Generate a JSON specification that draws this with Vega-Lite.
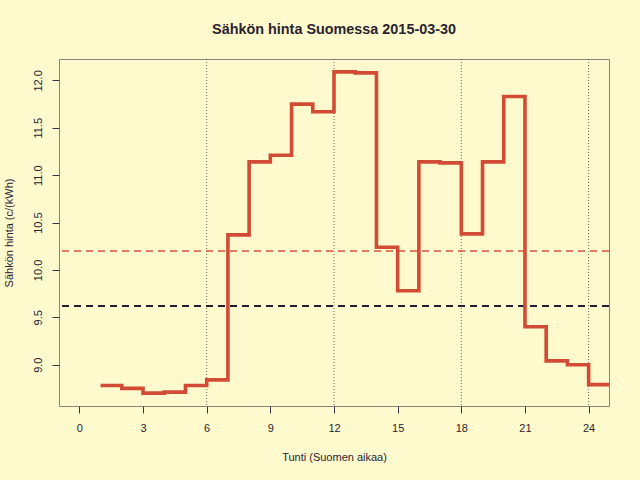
{
  "$schema": "https://vega.github.io/schema/vega-lite/v6.json",
  "autosize": "none",
  "width": 550,
  "height": 347,
  "padding": {"left": 59, "top": 59, "right": 31, "bottom": 74},
  "background": "#fffacd",
  "config": {
    "font": "Liberation Sans",
    "view": {"stroke": "#8a8378", "strokeWidth": 1},
    "axis": {
      "grid": false,
      "domain": false,
      "tickColor": "#3a3440",
      "tickSize": 7,
      "labelFont": "Liberation Sans",
      "labelFontSize": 11,
      "labelColor": "#2a2430",
      "titleFont": "Liberation Sans",
      "titleFontSize": 11,
      "titleFontWeight": "normal",
      "titleColor": "#2a2430"
    },
    "title": {"font": "Liberation Sans", "fontSize": 14.4, "fontWeight": "bold", "color": "#2a2430"}
  },
  "title": {"text": "Sähkön hinta Suomessa 2015-03-30", "anchor": "middle", "baseline": "alphabetic", "offset": 10},
  "datasets": {
    "hinta": [
      {"tunti": 1, "hinta": 8.78},
      {"tunti": 2, "hinta": 8.75},
      {"tunti": 3, "hinta": 8.70},
      {"tunti": 4, "hinta": 8.71},
      {"tunti": 5, "hinta": 8.78},
      {"tunti": 6, "hinta": 8.84},
      {"tunti": 7, "hinta": 10.37},
      {"tunti": 8, "hinta": 11.14},
      {"tunti": 9, "hinta": 11.21},
      {"tunti": 10, "hinta": 11.75},
      {"tunti": 11, "hinta": 11.67},
      {"tunti": 12, "hinta": 12.09},
      {"tunti": 13, "hinta": 12.08},
      {"tunti": 14, "hinta": 10.24},
      {"tunti": 15, "hinta": 9.78},
      {"tunti": 16, "hinta": 11.14},
      {"tunti": 17, "hinta": 11.13},
      {"tunti": 18, "hinta": 10.38},
      {"tunti": 19, "hinta": 11.14},
      {"tunti": 20, "hinta": 11.83},
      {"tunti": 21, "hinta": 9.40},
      {"tunti": 22, "hinta": 9.04},
      {"tunti": 23, "hinta": 9.00},
      {"tunti": 24, "hinta": 8.79},
      {"tunti": 25, "hinta": 8.79}
    ],
    "pystyviivat": [
      {"tunti": 6}, {"tunti": 12}, {"tunti": 18}, {"tunti": 24}
    ],
    "tasot": [
      {"taso": 10.20, "nimi": "keskiarvo"},
      {"taso": 9.62, "nimi": "vertailu"}
    ]
  },
  "layer": [
    {
      "data": {"name": "pystyviivat"},
      "mark": {"type": "rule", "color": "#6b655e", "strokeWidth": 1, "strokeDash": [1, 2]},
      "encoding": {
        "x": {"field": "tunti", "type": "quantitative", "scale": {"domain": [-0.96, 24.96], "nice": false, "zero": false}}
      }
    },
    {
      "data": {"name": "tasot"},
      "mark": {"type": "rule", "strokeDash": [7, 5]},
      "encoding": {
        "y": {"field": "taso", "type": "quantitative"},
        "color": {
          "field": "nimi",
          "type": "nominal",
          "scale": {"domain": ["keskiarvo", "vertailu"], "range": ["#d4553c", "#221e30"]},
          "legend": null
        },
        "strokeWidth": {
          "field": "nimi",
          "type": "nominal",
          "scale": {"domain": ["keskiarvo", "vertailu"], "range": [1.4, 2]},
          "legend": null
        }
      }
    },
    {
      "data": {"name": "hinta"},
      "mark": {"type": "line", "interpolate": "step-after", "color": "#d24b35", "strokeWidth": 3.6, "clip": true},
      "encoding": {
        "x": {
          "field": "tunti",
          "type": "quantitative",
          "scale": {"domain": [-0.96, 24.96], "nice": false, "zero": false},
          "axis": {
            "title": "Tunti (Suomen aikaa)",
            "values": [0, 3, 6, 9, 12, 15, 18, 21, 24],
            "labelBaseline": "middle",
            "labelPadding": 15.5,
            "titleBaseline": "middle",
            "titleY": 51
          }
        },
        "y": {
          "field": "hinta",
          "type": "quantitative",
          "scale": {"domain": [8.564, 12.226], "nice": false, "zero": false},
          "axis": {
            "title": "Sähkön hinta (c/(kWh)",
            "values": [9, 9.5, 10, 10.5, 11, 11.5, 12],
            "format": ".1f",
            "labelAngle": 270,
            "labelAlign": "center",
            "labelBaseline": "middle",
            "labelPadding": 13.5,
            "titleBaseline": "middle",
            "titleX": -50
          }
        }
      }
    }
  ]
}
